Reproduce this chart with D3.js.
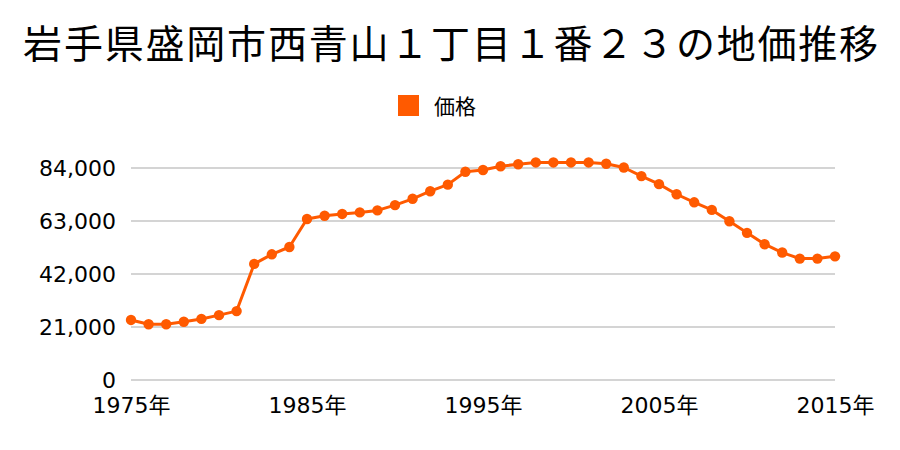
<!DOCTYPE html>
<html><head><meta charset="utf-8">
<script src="https://cdn.jsdelivr.net/npm/d3@7"></script>
<style>body{margin:0;background:#fff}svg{display:block}</style>
</head><body>
<svg id="c" width="900" height="450"></svg>
<script>
const title = "岩手県盛岡市西青山１丁目１番２３の地価推移";
const seriesName = "価格";
const years = [1975,1976,1977,1978,1979,1980,1981,1982,1983,1984,1985,1986,1987,1988,1989,1990,1991,1992,1993,1994,1995,1996,1997,1998,1999,2000,2001,2002,2003,2004,2005,2006,2007,2008,2009,2010,2011,2012,2013,2014,2015];
const prices = [23800,22100,22100,23100,24200,25700,27300,46000,49800,52700,63800,65100,65800,66400,67200,69300,71800,74800,77400,82500,83200,84700,85500,86200,86200,86200,86200,85700,84200,80800,77600,73600,70400,67400,62900,58300,53800,50500,48100,48100,49000];
const yTicks = [0,21000,42000,63000,84000];
const xTicks = [1975,1985,1995,2005,2015];

const svg = d3.select("#c");
const font = "'Noto Sans CJK JP', 'Noto Sans', sans-serif";
const numFont = "'DejaVu Sans', 'Noto Sans CJK JP', sans-serif";
const x = d3.scaleLinear().domain([1975,2015]).range([131,835]);
const y = d3.scaleLinear().domain([0,84000]).range([380,168]);

svg.append("text").attr("x",451.5).attr("y",58).attr("text-anchor","middle")
  .attr("font-family",font).attr("font-size",39).attr("letter-spacing",1.8).attr("fill","#000").text(title);

svg.append("rect").attr("x",398).attr("y",95).attr("width",21).attr("height",21).attr("fill","#ff5a00");
svg.append("text").attr("x",434).attr("y",114).attr("font-family",font).attr("font-size",21).attr("fill","#000").text(seriesName);

svg.selectAll("line.grid").data(yTicks).join("line").attr("class","grid")
  .attr("x1",x(1975)).attr("x2",x(2015)).attr("y1",d=>y(d)).attr("y2",d=>y(d))
  .attr("stroke","#aaa").attr("stroke-width",1.2);

const yAxis = d3.axisLeft(y).tickValues(yTicks).tickSize(0).tickPadding(15).tickFormat(d3.format(","));
const ya = svg.append("g").attr("transform",`translate(${x(1975)},0)`).call(yAxis);
ya.select(".domain").remove();
ya.selectAll("text").attr("font-family",numFont).attr("font-size",22).attr("fill","#000");

const xAxis = d3.axisBottom(x).tickValues(xTicks).tickSize(0).tickFormat(d=>d+"年");
const xa = svg.append("g").attr("transform",`translate(0,${y(0)})`).call(xAxis);
xa.select(".domain").remove();
xa.selectAll("text").attr("dy",null).attr("y",33).attr("font-family",numFont).attr("font-size",22).attr("fill","#000");

const data = years.map((yr,i)=>({yr, v:prices[i]}));
svg.append("path").datum(data).attr("fill","none").attr("stroke","#ff5a00").attr("stroke-width",3)
  .attr("stroke-linejoin","round")
  .attr("d", d3.line().x(d=>x(d.yr)).y(d=>y(d.v)));
svg.selectAll("circle.pt").data(data).join("circle").attr("class","pt")
  .attr("cx",d=>x(d.yr)).attr("cy",d=>y(d.v)).attr("r",5.2).attr("fill","#ff5a00");
</script>
</body></html>
